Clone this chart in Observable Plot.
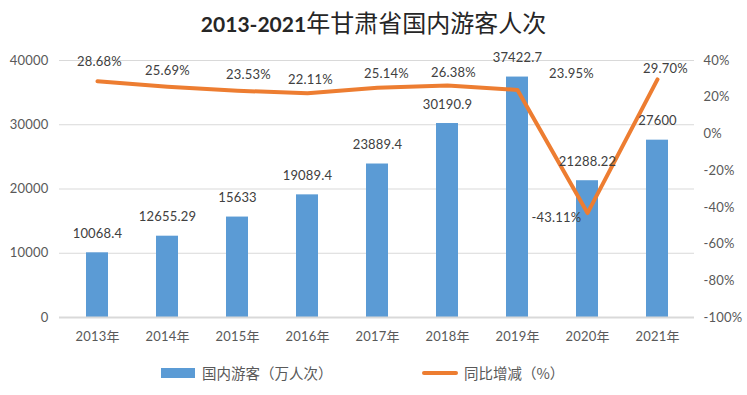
<!DOCTYPE html>
<html>
<head>
<meta charset="utf-8">
<script src="https://cdn.jsdelivr.net/npm/d3@7"></script>
<script src="https://cdn.jsdelivr.net/npm/@observablehq/plot@0.6"></script>
<style>
  body { margin: 0; background: #fff; width: 747px; overflow: hidden; }
  #title { height: 44px; line-height: 44px; text-align: center; color: #262626;
           font-family: "Noto Sans CJK SC", sans-serif; font-size: 24px; font-weight: 400; white-space: nowrap; }
  #title .num { font-family: Lato, "Noto Sans CJK SC", sans-serif; font-weight: 700; font-size: 21px; }
  #legend { position: relative; height: 45px; font-family: "Noto Sans CJK SC", sans-serif; font-size: 14.5px; color: #595959; }
  #legend .item { position: absolute; top: 0; height: 45px; display: flex; align-items: center; }
  #legend .sw-bar { width: 34px; height: 10px; background: #5B9BD5; margin-right: 7px; }
  #legend .sw-line { width: 36px; height: 4px; background: #ED7D31; border-radius: 2px; margin-right: 6px; }
</style>
</head>
<body>
<div id="title"><span class="num">2013-2021</span>年甘肃省国内游客人次</div>
<div id="chart"></div>
<div id="legend">
  <div class="item" style="left:161px"><div class="sw-bar"></div><span>国内游客（万人次）</span></div>
  <div class="item" style="left:422px"><div class="sw-line"></div><span>同比增减（%）</span></div>
</div>
<script>
const years = ["2013年","2014年","2015年","2016年","2017年","2018年","2019年","2020年","2021年"];
const visitors = [10068.4, 12655.29, 15633, 19089.4, 23889.4, 30190.9, 37422.7, 21288.22, 27600];
const visitorLabels = ["10068.4","12655.29","15633","19089.4","23889.4","30190.9","37422.7","21288.22","27600"];
const growth = [28.68, 25.69, 23.53, 22.11, 25.14, 26.38, 23.95, -43.11, 29.70];
const growthLabels = ["28.68%","25.69%","23.53%","22.11%","25.14%","26.38%","23.95%","-43.11%","29.70%"];
const leftTicks = [0, 10000, 20000, 30000, 40000];
const rightTicks = [-100, -80, -60, -40, -20, 0, 20, 40];

const data = years.map((year, i) => ({
  year, visitors: visitors[i], vlabel: visitorLabels[i], growth: growth[i], glabel: growthLabels[i]
}));

// map the right-axis percentage domain [-100, 40] onto the left-axis domain [0, 40000]
const pctMin = rightTicks[0], pctMax = rightTicks[rightTicks.length - 1];
const leftMax = leftTicks[leftTicks.length - 1];
const toLeft = p => (p - pctMin) / (pctMax - pctMin) * leftMax;
const fromLeft = v => v / leftMax * (pctMax - pctMin) + pctMin;

// label nudges (dx, dy) reproducing the hand-placed data labels of the original
const nudges = [[2,-19],[0,-16],[11,-16],[3,-14],[9,-14],[6,-13],[54,-16],[-31,5],[8,-11]];

const growthTextMarks = data.map((d, i) =>
  Plot.text([d], {x: "year", y: r => toLeft(r.growth), text: "glabel",
    dx: nudges[i][0], dy: nudges[i][1], fill: "#404040"})
);

const chart = Plot.plot({
  width: 747,
  height: 306,
  marginTop: 16,
  marginBottom: 33,
  marginLeft: 59,
  marginRight: 53,
  style: {fontFamily: "Lato, 'Noto Sans CJK SC', sans-serif", fontSize: "13px", color: "#595959", background: "white", letterSpacing: "0.2px"},
  x: {domain: years, paddingInner: 0.69, paddingOuter: 0.345, label: null},
  y: {domain: [0, leftMax], label: null},
  marks: [
    Plot.gridY(leftTicks.filter(v => v > 0), {stroke: "#d9d9d9", strokeOpacity: 1, strokeWidth: 1.2}),
    Plot.barY(data, {x: "year", y: "visitors", fill: "#5B9BD5"}),
    Plot.ruleY([0], {stroke: "#d9d9d9", strokeWidth: 1.8}),
    Plot.axisY(leftTicks, {anchor: "left", tickSize: 0, tickPadding: 11, label: null, tickFormat: d => String(d)}),
    Plot.axisY(rightTicks.map(toLeft), {anchor: "right", tickSize: 0, tickPadding: 9, label: null,
      tickFormat: v => Math.round(fromLeft(v)) + "%"}),
    Plot.axisX({tickSize: 0, tickPadding: 14, label: null}),
    Plot.line(data, {x: "year", y: d => toLeft(d.growth), stroke: "#ED7D31", strokeWidth: 4, strokeLinejoin: "round", strokeLinecap: "round"}),
    Plot.text(data, {x: "year", y: "visitors", text: "vlabel", dy: -19, fill: "#404040"}),
    ...growthTextMarks
  ]
});
document.getElementById("chart").appendChild(chart);
</script>
</body>
</html>
